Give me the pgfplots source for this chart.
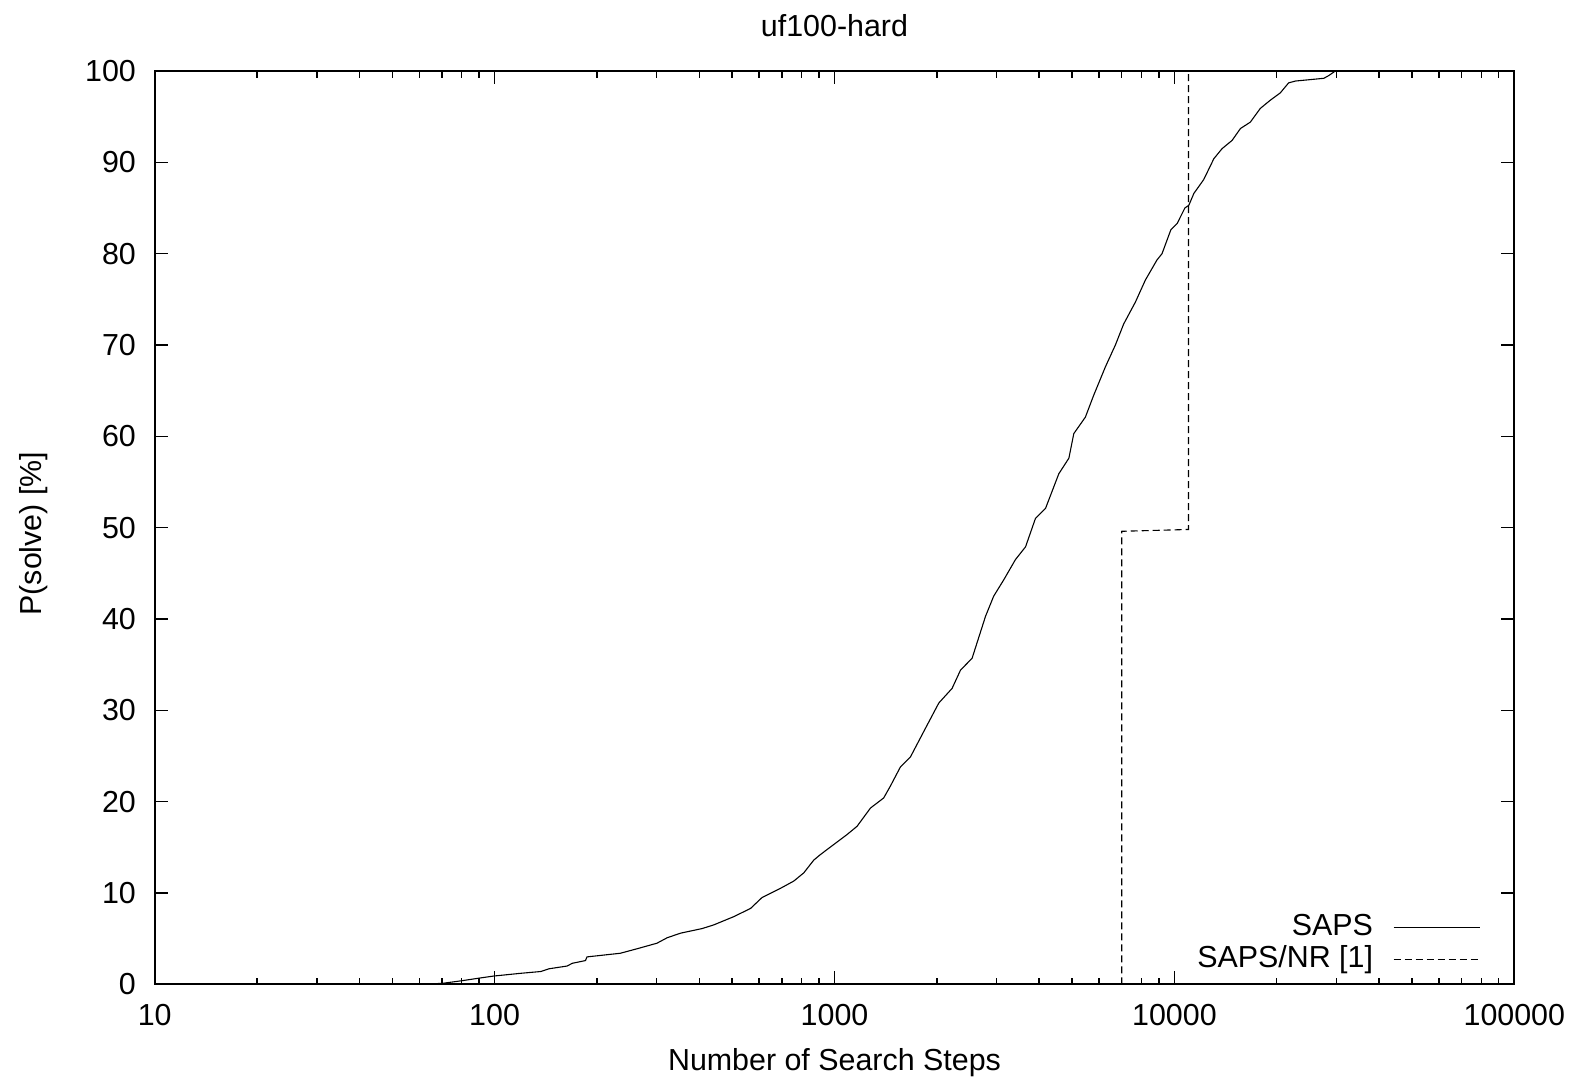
\documentclass[border=0pt]{standalone}
\usepackage{fontspec}
\setmainfont{Liberation Sans}
\usepackage{pgfplots}
\pgfplotsset{compat=1.18}
\newcommand{\chartfont}{\fontsize{15.2}{18}\selectfont}
\begin{document}
\chartfont
\begin{tikzpicture}
\useasboundingbox (-77.35pt,-48.35pt) rectangle (711.15pt,492.15pt);
\begin{axis}[
  at={(0pt,0pt)}, anchor=south west,
  scale only axis, width=679.8pt, height=456.65pt,
  xmode=log, xmin=10, xmax=100000, ymin=0, ymax=100,
  xtick={10,100,1000,10000,100000},
  xticklabels={10,100,1000,10000,100000},
  ytick={0,10,20,30,40,50,60,70,80,90,100},
  /pgf/number format/assume math mode=true,
  tick align=inside,
  major tick length=6.5pt, minor tick length=3.3pt,
  every tick/.style={black, line width=0.7pt},
  axis line style={line width=1pt},
  ticklabel style={font=\chartfont},
  xticklabel style={anchor=center, inner sep=0pt, yshift=-15.5pt},
  yticklabel style={anchor=east, inner sep=0pt, xshift=-9.2pt},
  title={uf100-hard},
  title style={at={(0.5,1)}, anchor=center, yshift=16.5pt, inner sep=0pt, font=\chartfont},
  xlabel={Number of Search Steps},
  xlabel style={at={(0.5,0)}, anchor=center, yshift=-39.2pt, inner sep=0pt, font=\chartfont},
  ylabel={P(solve) [\%]},
  ylabel style={at={(0,0.5)}, anchor=center, yshift=60.5pt, xshift=-3pt, inner sep=0pt, font=\chartfont},
  legend plot pos=right,
  legend cell align=right,
  legend image code/.code={\draw[#1] (0pt,0pt) -- (43.3pt,0pt);},
  legend style={at={(1,0)}, anchor=south east, draw=none, fill=none,
    xshift=-16.8pt, yshift=5.5pt, inner sep=0pt, outer sep=0pt,
    row sep=2.1pt, column sep=10pt,
    nodes={inner sep=0pt, text height=10.8pt, text depth=3pt},
    font=\chartfont},
]
\addplot[black, line width=0.55pt] coordinates {
(59.6,0) (70.1,0.1) (80.4,0.4) (90.9,0.7) (99.2,0.9) (119,1.2) (136.7,1.4) (144.6,1.7)
(163.4,2.0) (169.3,2.3) (185.1,2.6) (187,3.0) (234.4,3.4) (263,3.9) (300.4,4.5) (322,5.1)
(352.5,5.6) (407.6,6.1) (441,6.5) (504.8,7.4) (566,8.3) (612,9.5) (692.8,10.5) (758.7,11.3)
(812,12.2) (869,13.6) (908.6,14.2) (994.7,15.3) (1089,16.4) (1165,17.3) (1276,19.3)
(1395,20.4) (1460,21.7) (1563,23.8) (1673,24.9) (1832,27.7) (2027,30.8) (2218,32.4)
(2348,34.4) (2540,35.7) (2658,38.0) (2782,40.3) (2940,42.5) (3149,44.3) (3406,46.5)
(3648,47.9) (3901,51.0) (4176,52.1) (4570,55.9) (4892,57.6) (5059,60.3) (5471,62.1)
(5789,64.5) (6265,67.6) (6705,70.0) (7093,72.3) (7679,74.7) (8212,77.1) (8883,79.3)
(9196,80.0) (9759,82.6) (10186,83.3) (10735,85.0) (11028,85.3) (11411,86.6)
(12191,88.1) (13064,90.4) (13814,91.5) (14783,92.4) (15641,93.7) (16725,94.4)
(17894,95.9) (19151,96.8) (20485,97.6) (21681,98.7) (22712,98.9) (27519,99.2)
(28462,99.5) (29743,100)
};
\addlegendentry{SAPS}
\addplot[black, line width=0.55pt, dash pattern=on 3.5pt off 2pt] coordinates {
(7000,0) (7000,49.6) (11000,49.8) (11000,100)
};
\addlegendentry{SAPS/NR [1]}
\end{axis}
\end{tikzpicture}
\end{document}
